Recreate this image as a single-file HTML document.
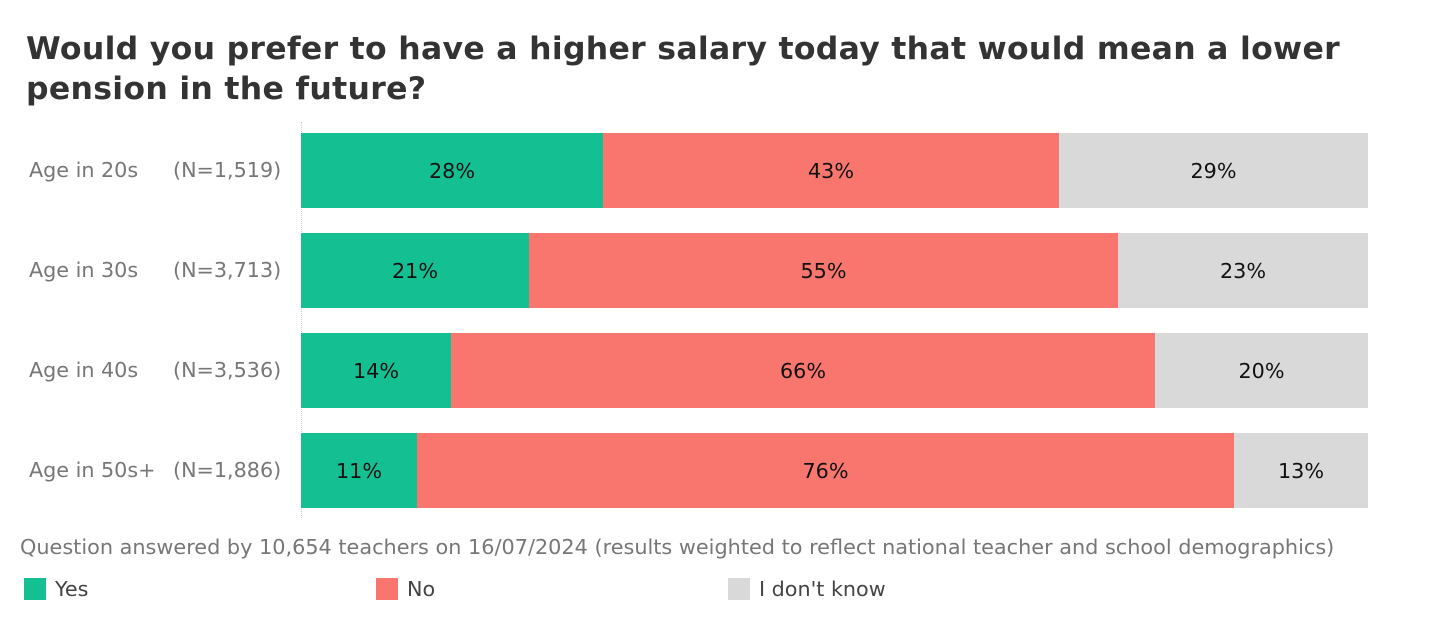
<!DOCTYPE html>
<html><head><meta charset="utf-8"><style>
body{margin:0;width:1440px;height:640px;background:#fff;font-family:"DejaVu Sans","Liberation Sans",sans-serif;position:relative;overflow:hidden}
.t{position:absolute;left:26px;top:29px;font-size:31.5px;font-weight:bold;color:#333;line-height:40px;letter-spacing:0.3px}
.lab{position:absolute;font-size:20.7px;color:#777;line-height:24px}
.seg{position:absolute;height:75px;display:flex;align-items:center;justify-content:center;font-size:20.7px;color:#111}
.g{background:#14bf91}.r{background:#f8766d}.k{background:#d9d9d9}
.sq{position:absolute;width:22px;height:22px;top:578px}
</style></head><body>
<div class="t">Would you prefer to have a higher salary today that would mean a lower<br>pension in the future?</div>
<div style="position:absolute;left:301px;top:122px;height:396px;border-left:1px dotted #ccc"></div>

<div class="lab" style="left:29px;top:158px">Age in 20s</div><div class="lab" style="left:173px;top:158px">(N=1,519)</div>
<div class="lab" style="left:29px;top:258px">Age in 30s</div><div class="lab" style="left:173px;top:258px">(N=3,713)</div>
<div class="lab" style="left:29px;top:358px">Age in 40s</div><div class="lab" style="left:173px;top:358px">(N=3,536)</div>
<div class="lab" style="left:29px;top:458px">Age in 50s+</div><div class="lab" style="left:173px;top:458px">(N=1,886)</div>

<div class="seg g" style="left:301px;top:133px;width:302px">28%</div>
<div class="seg r" style="left:603px;top:133px;width:456px">43%</div>
<div class="seg k" style="left:1059px;top:133px;width:309px">29%</div>

<div class="seg g" style="left:301px;top:233px;width:228px">21%</div>
<div class="seg r" style="left:529px;top:233px;width:589px">55%</div>
<div class="seg k" style="left:1118px;top:233px;width:250px">23%</div>

<div class="seg g" style="left:301px;top:333px;width:150px">14%</div>
<div class="seg r" style="left:451px;top:333px;width:704px">66%</div>
<div class="seg k" style="left:1155px;top:333px;width:213px">20%</div>

<div class="seg g" style="left:301px;top:433px;width:116px">11%</div>
<div class="seg r" style="left:417px;top:433px;width:817px">76%</div>
<div class="seg k" style="left:1234px;top:433px;width:134px">13%</div>

<div class="lab" style="left:20px;top:535px;font-size:20.8px">Question answered by 10,654 teachers on 16/07/2024 (results weighted to reflect national teacher and school demographics)</div>
<div class="sq g" style="left:24px"></div><div class="lab" style="left:55px;top:577px;color:#444">Yes</div>
<div class="sq r" style="left:376px"></div><div class="lab" style="left:407px;top:577px;color:#444">No</div>
<div class="sq k" style="left:728px"></div><div class="lab" style="left:759px;top:577px;color:#444">I don't know</div>
</body></html>
